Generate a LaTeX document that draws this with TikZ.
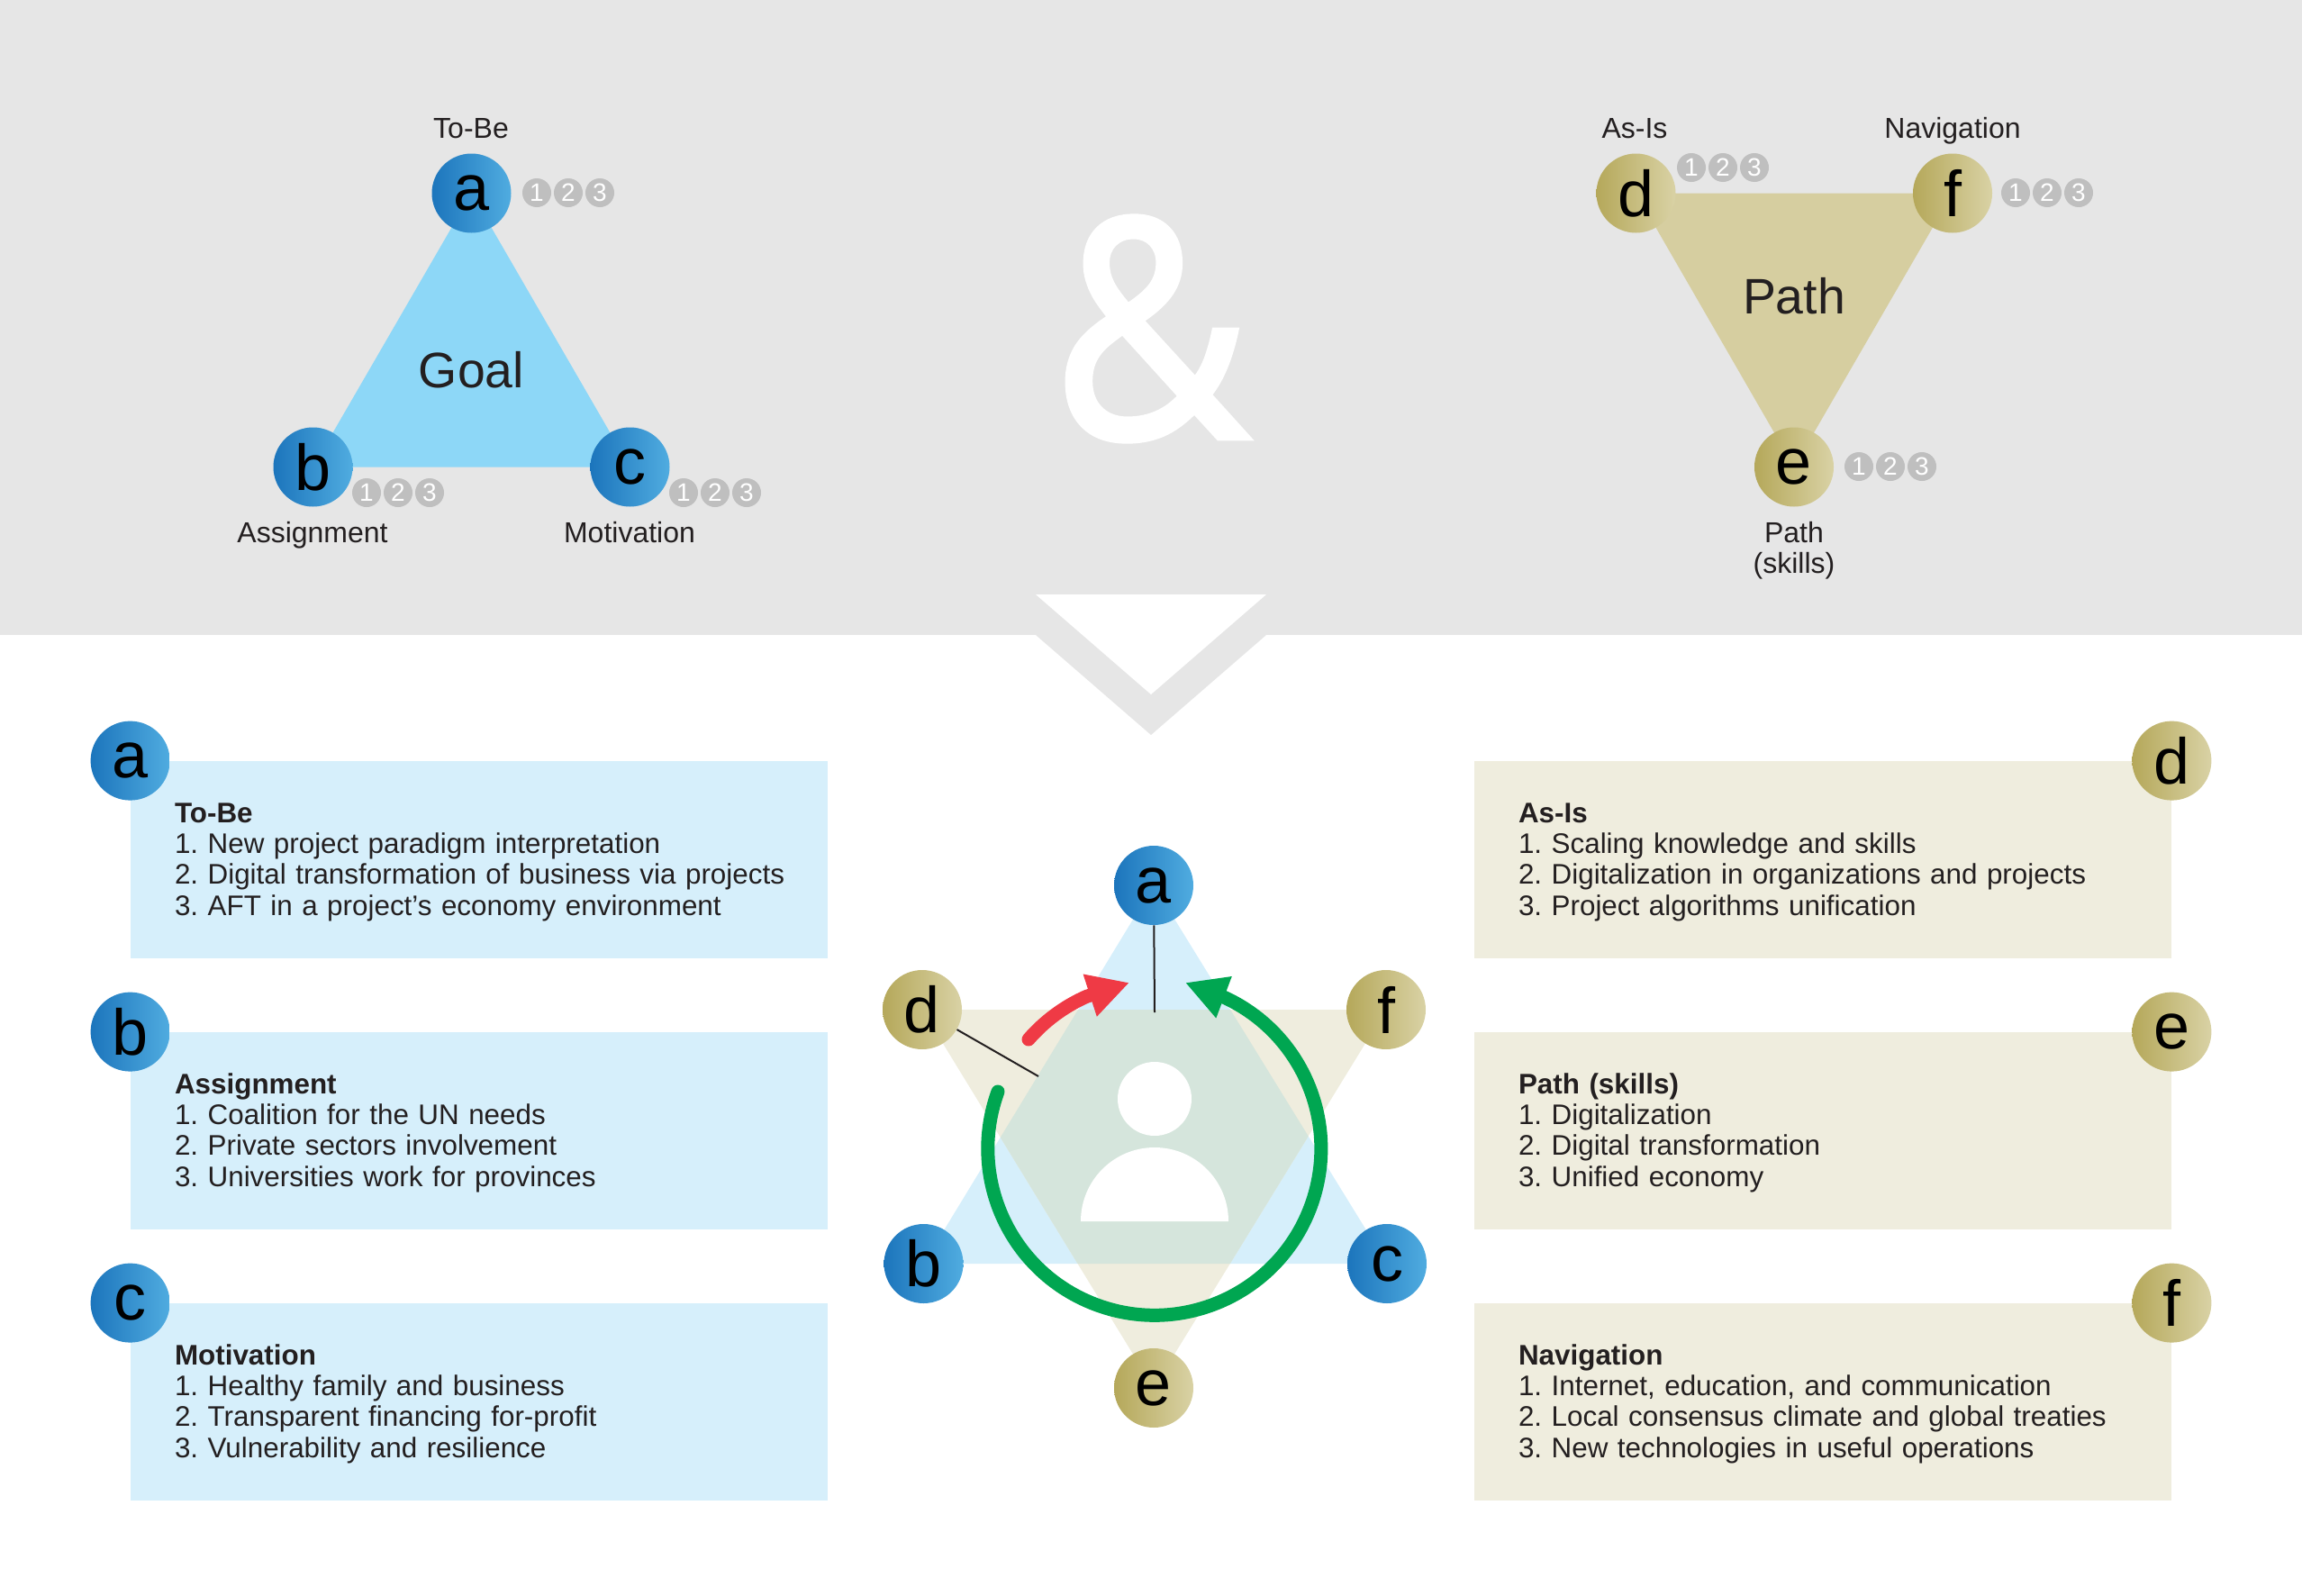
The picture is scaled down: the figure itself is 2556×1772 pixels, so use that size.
\documentclass[tikz,border=0pt]{standalone}
\usepackage{fontspec}
\setmainfont{Liberation Sans}
\newfontfamily\ampfont[FakeBold=1.6, FakeStretch=0.88]{Open Sans}
\frenchspacing
\usetikzlibrary{arrows.meta}
\definecolor{bandgrey}{HTML}{E6E6E6}
\definecolor{goalblue}{HTML}{8DD7F7}
\definecolor{pathtan}{HTML}{D6CEA0}
\definecolor{paleblue}{HTML}{D6EFFB}
\definecolor{paletan}{HTML}{EFEDDE}
\definecolor{overlapgreen}{HTML}{D5E5DC}
\definecolor{dotgrey}{HTML}{BFBFBF}
\definecolor{inkgrey}{HTML}{231F20}
\definecolor{ringgreen}{HTML}{00A651}
\definecolor{arrowred}{HTML}{EF3A45}
\definecolor{blueleft}{HTML}{1C75BC}
\definecolor{blueright}{HTML}{50ACE0}
\definecolor{tanleft}{HTML}{B5A85A}
\definecolor{tanright}{HTML}{D9D2A5}
\tikzset{
  letterdot/.style = {circle, minimum size=44pt, inner sep=0pt, font=\fontsize{36}{36}\selectfont},
  lowletter/.style = {text depth=-3pt},
  bluedot/.style = {letterdot, left color=blueleft, right color=blueright},
  tandot/.style = {letterdot, left color=tanleft, right color=tanright},
  badge/.style = {circle, fill=dotgrey, minimum size=16pt, inner sep=0pt, text=white, font=\fontsize{14}{14}\selectfont},
  caption/.style = {text=inkgrey, anchor=base, font=\fontsize{16}{17.1}\selectfont},
  bigword/.style = {text=inkgrey, font=\fontsize{27.7}{30}\selectfont},
  infobox/.style = {minimum width=387pt, minimum height=109.5pt, text width=352pt, inner xsep=17.5pt, inner ysep=0pt, align=left, text=inkgrey, font=\fontsize{15.7}{17.1}\selectfont, execute at begin node={\leftskip=7pt\rule{0pt}{13.5pt}}},
  headarrow/.style = {line width=7.5pt, line cap=round, -{Triangle[length=23pt, width=23pt]}}
}
\begin{document}
\begin{tikzpicture}[x=0.5pt, y=-0.5pt]
\useasboundingbox (0,0) rectangle (2556,1772);
\fill[bandgrey] (0,0) rectangle (2556,705);

% top triangles
\coordinate (goalA) at (523.5,214.5);
\coordinate (goalB) at (347.5,518.5);
\coordinate (goalC) at (699.5,518.5);
\coordinate (pathD) at (1816.5,214.5);
\coordinate (pathE) at (1992,518.5);
\coordinate (pathF) at (2168,214.5);
\fill[goalblue] (goalA) -- (goalB) -- (goalC) -- cycle;
\fill[pathtan] (pathD) -- (pathE) -- (pathF) -- cycle;
\node[bluedot, lowletter] (a) at (goalA) {a};
\node[bluedot] (b) at (goalB) {b};
\node[bluedot, lowletter] (c) at (goalC) {c};
\node[tandot] (d) at (pathD) {d};
\node[tandot, lowletter] (e) at (pathE) {e};
\node[tandot] (f) at (pathF) {f};
\node[bigword] (goal) at (523.5,411) {Goal};
\node[bigword] (path) at (1992,329) {Path};
\node[caption] (toBe) at (523,153) {To-Be};
\node[caption] (assignment) at (347,602) {Assignment};
\node[caption] (motivation) at (699,602) {Motivation};
\node[caption] (asIs) at (1815,153) {As-Is};
\node[caption] (navigation) at (2168,153) {Navigation};
\node[caption] (skillsTop) at (1992,602) {Path};
\node[caption] (skills) at (1992,636) {(skills)};
\foreach \grp/\bx/\by in {a/596/214, b/407/547, c/759/547, d/1878/186, f/2238/214, e/2064/518}
  \foreach \n in {1,2,3}
    \node[badge] (\grp\n) at ({\bx+35*(\n-1)},\by) {\n};

% ampersand and chevron
\node[text=white, font=\ampfont\fontsize{170}{170}\selectfont] (amp) at (1278,365) {\&};
\fill[bandgrey] (1150,705) -- (1406,705) -- (1278,816) -- cycle;
\fill[white] (1150,660) -- (1406,660) -- (1278,771) -- cycle;

% lists
\node[infobox, fill=paleblue] (boxA) at (532,954.5) {\textbf{To-Be}\\1. New project paradigm interpretation\\2. Digital transformation of business via projects\\3. AFT in a project’s economy environment};
\node[infobox, fill=paleblue] (boxB) at (532,1255.5) {\textbf{Assignment}\\1. Coalition for the UN needs\\2. Private sectors involvement\\3. Universities work for provinces};
\node[infobox, fill=paleblue] (boxC) at (532,1556.5) {\textbf{Motivation}\\1. Healthy family and business\\2. Transparent financing for-profit\\3. Vulnerability and resilience};
\node[infobox, fill=paletan] (boxD) at (2024,954.5) {\textbf{As-Is}\\1. Scaling knowledge and skills\\2. Digitalization in organizations and projects\\3. Project algorithms unification};
\node[infobox, fill=paletan] (boxE) at (2024,1255.5) {\textbf{Path (skills)}\\1. Digitalization\\2. Digital transformation\\3. Unified economy};
\node[infobox, fill=paletan] (boxF) at (2024,1556.5) {\textbf{Navigation}\\1. Internet, education, and communication\\2. Local consensus climate and global treaties\\3. New technologies in useful operations};
\node[bluedot, lowletter] (listA) at (boxA.north west) {a};
\node[bluedot] (listB) at (boxB.north west) {b};
\node[bluedot, lowletter] (listC) at (boxC.north west) {c};
\node[tandot] (listD) at (boxD.north east) {d};
\node[tandot, lowletter] (listE) at (boxE.north east) {e};
\node[tandot] (listF) at (boxF.north east) {f};

% star in the middle
\coordinate (starA) at (1281,983);
\coordinate (starB) at (1025.5,1403);
\coordinate (starC) at (1540,1403);
\coordinate (starD) at (1024,1121);
\coordinate (starE) at (1281,1541);
\coordinate (starF) at (1539,1121);
\fill[paleblue] (starA) -- (starB) -- (starC) -- cycle;
\fill[paletan] (starD) -- (starE) -- (starF) -- cycle;
\begin{scope}
\clip (starA) -- (starB) -- (starC) -- cycle;
\fill[overlapgreen] (starD) -- (starE) -- (starF) -- cycle;
\end{scope}
\node[bluedot, lowletter] (hubA) at (starA) {a};
\node[bluedot] (hubB) at (starB) {b};
\node[bluedot, lowletter] (hubC) at (starC) {c};
\node[tandot] (hubD) at (starD) {d};
\node[tandot, lowletter] (hubE) at (starE) {e};
\node[tandot] (hubF) at (starF) {f};

% person
\fill[white] (1282,1220) circle[radius=20.5pt];
\fill[white] (1200,1356) arc[start angle=180, end angle=0, radius=41pt] -- cycle;

% pointers
\coordinate (hubAEnd) at (1282,1124);
\coordinate (hubDEnd) at (1153,1195);
\draw[inkgrey, line width=1pt] (hubA) -- (hubAEnd);
\draw[inkgrey, line width=1pt] (hubD) -- (hubDEnd);

% arrows
\coordinate (ringStart) at (1108,1212);
\coordinate (ringTip) at (1316,1091);
\coordinate (redStart) at (1142,1154);
\coordinate (redTip) at (1254,1091);
\draw[ringgreen, headarrow] (ringStart) arc[start angle=160, end angle=425, radius=92.5pt] -- (ringTip);
\draw[arrowred, headarrow] (redStart) arc[start angle=139, end angle=114, radius=92.5pt] -- (redTip);
\end{tikzpicture}
\end{document}
